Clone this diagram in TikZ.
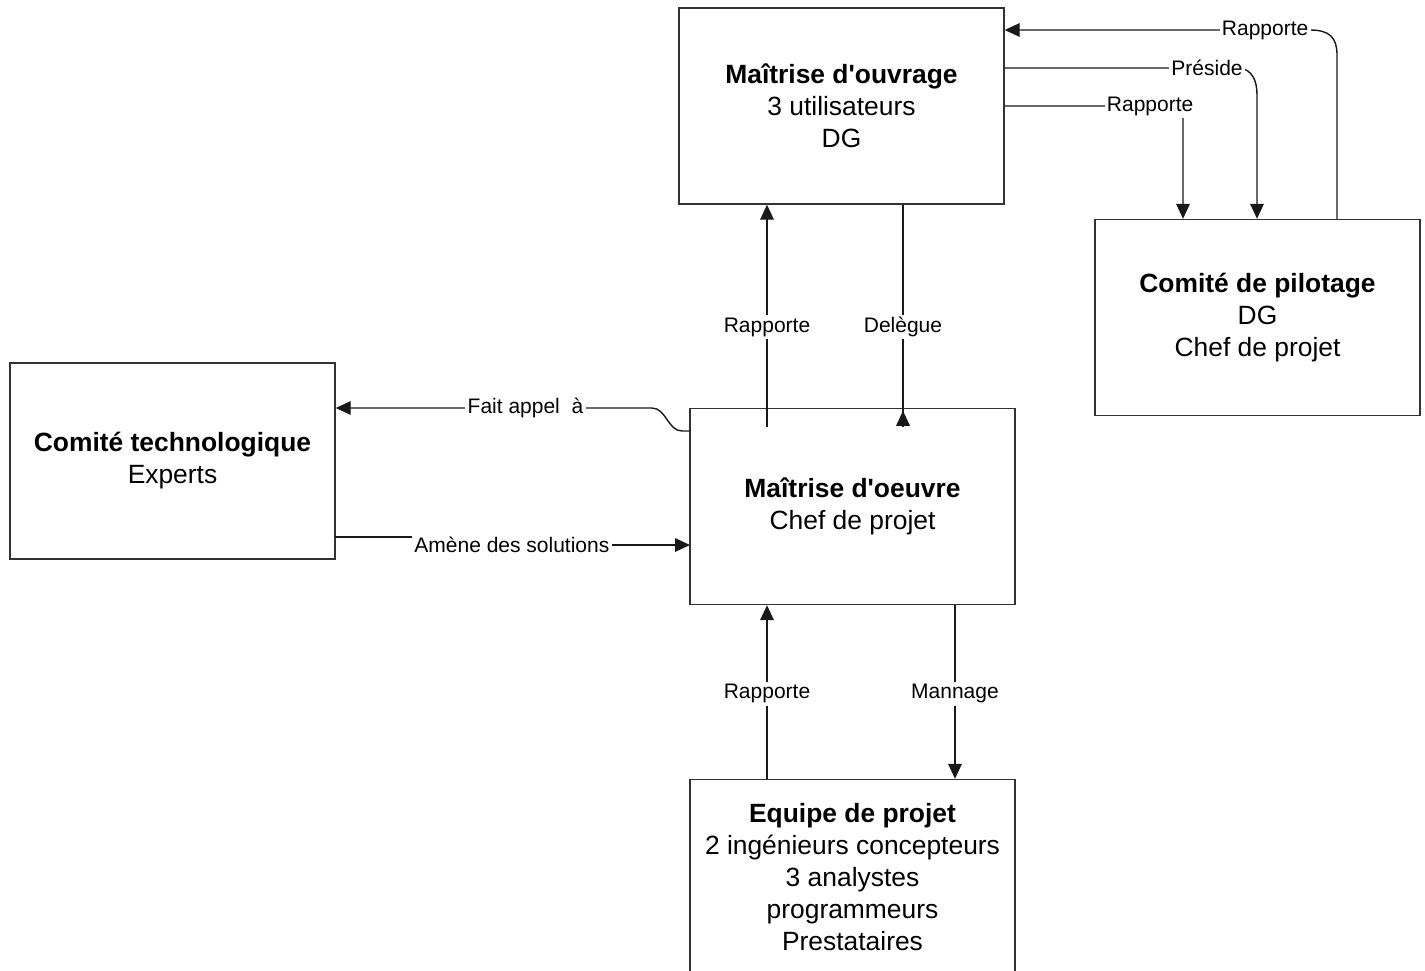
\documentclass[tikz,border=0pt]{standalone}
\usepackage{fontspec}
\newfontfamily\arial{Liberation Sans}
\usetikzlibrary{arrows.meta,calc}
\tikzset{
  box/.style={draw=black!80, line width=0.7pt, rectangle, minimum width=162.5pt, minimum height=98pt, align=center, inner sep=0pt, text=black, font=\arial\fontsize{13.2}{16}\selectfont},
  conn/.style={draw=black!90, line width=0.7pt},
  arr/.style={conn, -{Triangle[length=7.5pt,width=6.8pt]}},
  lbl/.style={fill=white, inner sep=1.2pt, text=black, font=\arial\fontsize{10.5}{12}\selectfont}
}
\begin{document}
\begin{tikzpicture}[x=0.5pt,y=-0.5pt]
\useasboundingbox (0,0) rectangle (1425,970);
\clip (0,0) rectangle (1425,970);
\fill[white] (0,0) rectangle (1425,970);

% boxes
\node[box] (moa) at (841.5,106) {\textbf{Maîtrise d'ouvrage}\\3 utilisateurs\\DG};
\node[box] (cp) at (1257.5,317.5) {\textbf{Comité de pilotage}\\DG\\Chef de projet};
\node[box] (ct) at (172.5,461) {\textbf{Comité technologique}\\Experts};
\node[box] (moe) at (852.5,506.5) {\textbf{Maîtrise d'oeuvre}\\Chef de projet};
\node[box] (eq) at (852.5,877.5) {\textbf{Equipe de projet}\\2 ingénieurs concepteurs\\3 analystes\\programmeurs\\Prestataires};

% MOE -> MOA : Rapporte
\coordinate (r1) at (767,427);
\draw[arr] (r1) -- node[lbl,pos=0.45]{Rapporte} (r1 |- moa.south);

% MOA -> MOE : Delegue
\coordinate (d1) at (903,427);
\draw[conn] (d1 |- moa.south) -- node[lbl,pos=0.55]{Delègue} (d1);
\draw[arr] (d1) -- ($(d1 |- moe.north)+(0,3)$);

% MOE -> CT : Fait appel a
\coordinate (f1) at (690,431);
\coordinate (f2) at (652,408);
\draw[arr] (f1) -- (682,431) .. controls (668,431) and (666,408) .. (f2) -- node[lbl,pos=0.40]{Fait appel\ \ à} (f2 -| ct.east);

% CT -> MOE : Amene des solutions
\coordinate (a1) at (335,537);
\coordinate (a2) at (690,545);
\draw[arr] (a1) -- (430,537) -- (430,545) -- node[lbl,pos=0.315]{Amène des solutions} (a2);

% CP -> MOA : Rapporte
\coordinate (t1) at (1337,219);
\coordinate (t2) at (1310,30);
\draw[arr] (t1) -- (1337,55) .. controls (1337,38) and (1330,30) .. (t2) -- node[lbl,pos=0.147]{Rapporte} (moa.east |- t2);

% MOA -> CP : Preside
\coordinate (p1) at (1240,68);
\coordinate (p2) at (1257,95);
\draw[arr] (moa.east |- p1) -- node[lbl,pos=0.86]{Préside} (p1) .. controls (1252,70) and (1257,80) .. (p2) -- (p2 |- cp.north);

% MOA -> CP : Rapporte
\coordinate (q1) at (1176,106);
\coordinate (q2) at (1183,120);
\draw[arr] (moa.east |- q1) -- node[lbl,pos=0.849]{Rapporte} (q1) .. controls (1183,106) .. (q2) -- (q2 |- cp.north);

% EQ -> MOE : Rapporte
\coordinate (b1) at (767,779);
\draw[arr] (b1 |- eq.north) -- node[lbl,pos=0.49]{Rapporte} (b1 |- moe.south);

% MOE -> EQ : Mannage
\coordinate (m1) at (955,700);
\draw[arr] (m1 |- moe.south) -- node[lbl,pos=0.51]{Mannage} (m1 |- eq.north);
\end{tikzpicture}
\end{document}
